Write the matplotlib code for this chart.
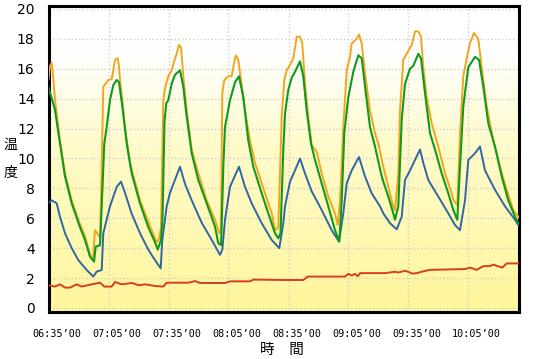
import numpy as np
import matplotlib.pyplot as plt
import matplotlib.transforms as mtransforms
from matplotlib.colors import LinearSegmentedColormap

# --- データ (06:35'00 からの経過分, 温度) ---
t_orange = [0, 0.8, 1.6, 2.3, 3.25, 5.75, 8.25, 11.6, 15.75, 18.25, 20.75, 21.6, 22.4, 23.2, 24.9,
            25.8, 26.6, 27.4, 29.9, 31.6, 32.4, 33.25, 34.6, 35.2, 35.75, 36.9, 38.25, 40.75, 45.75,
            51.6, 54.1, 55.2, 56.25, 57.4, 58.25, 59.9, 61.6, 63.25, 64.1, 65.25, 66.3, 67.4, 69.1,
            71.6, 74.9, 79.1, 83.25, 85.4, 86.2, 86.9, 87.9, 89.9, 91.6, 92.4, 93.6, 94.9, 96.25,
            98.25, 100.75, 103.25, 108.25, 111.6, 113.25, 114.9, 116.6, 117.9, 119.1, 120.75, 122.4,
            124.1, 125.75, 126.9, 128.25, 129.9, 131.6, 134.1, 136.6, 139.9, 143.25, 144.6, 145.75,
            147.4, 149.1, 150.75, 151.6, 154.1, 155.25, 156.6, 158.25, 160.75, 163.25, 164.9, 167.4,
            169.9, 172.4, 173.25, 174.9, 175.75, 177.4, 180.75, 181.6, 183.25, 184.9, 186.25, 187.4,
            189.1, 191.6, 194.9, 198.25, 201.6, 202.5, 204.4, 205.75, 207.4, 209.1, 210.75, 212.75,
            214.9, 216.6, 219.1, 222.4, 225.75, 229.1, 232.4, 234.9, 235.5]
v_orange = [15.3, 16.2, 16.4, 15.5, 13.9, 11.2, 9.0, 7.2, 5.6, 4.8, 3.6, 3.3, 3.4, 5.2, 4.9,
            4.7, 9.5, 14.8, 15.25, 15.3, 15.9, 16.6, 16.7, 16.2, 15.25, 13.9, 12.1, 9.7, 7.2,
            5.2, 4.4, 4.6, 5.4, 13.9, 14.7, 15.5, 15.9, 16.7, 17.0, 17.6, 17.4, 15.5, 13.2,
            10.6, 9.0, 7.2, 5.9, 5.0, 5.2, 14.36, 15.25, 15.5, 15.5, 16.1, 16.9, 16.6, 15.25,
            13.2, 11.2, 9.7, 7.67, 6.33, 5.2, 5.4, 12.8, 15.25, 15.9, 16.25, 16.7,
            18.15, 18.15, 17.7, 15.0, 12.8, 10.9, 10.45, 9.0, 7.45, 6.33, 5.55, 7.2,
            12.1, 15.9, 16.8, 17.7, 18.0, 18.3, 17.7, 15.7, 13.2, 11.7, 11.0, 9.45,
            8.1, 6.8, 6.55, 9.0, 13.2, 16.6, 17.4, 17.6, 18.5, 18.5, 18.15, 16.1,
            14.1, 12.35, 10.8, 9.0, 7.67, 7.2, 6.9, 11.7, 15.5, 16.7, 17.7, 18.4,
            18.0, 16.1, 13.5, 11.2, 9.45, 7.9, 6.55, 6.1, 6.0]

t_green = [0, 3.25, 5.75, 8.25, 11.6, 15.75, 18.25, 20.75, 22.75, 23.6, 25.75, 26.5, 27.9, 29.1,
           30.75, 32.4, 34.1, 35.25, 36.9, 39.1, 41.6, 45.75, 49.9, 53.25, 54.6, 56.25, 57.0, 58.0,
           58.9, 59.9, 61.6, 63.25, 65.75, 67.4, 69.1, 71.6, 74.9, 79.1, 83.25, 84.9, 86.3, 87.4,
           88.25, 90.75, 93.25, 95.25, 97.4, 99.9, 102.4, 106.6, 109.9, 113.25, 114.9, 116.0, 117.4,
           118.25, 119.9, 121.6, 123.25, 125.75, 127.4, 129.1, 131.25, 133.25, 136.6, 139.9, 143.25,
           145.4, 146.6, 147.9, 149.9, 152.4, 154.9, 156.6, 159.1, 160.75, 163.25, 166.6, 167.4,
           169.9, 172.4, 173.25, 174.9, 176.6, 178.25, 180.75, 182.4, 184.9, 186.25, 188.25, 190.75,
           193.25, 196.6, 199.9, 202.4, 204.4, 205.75, 207.4, 209.9, 213.25, 215.25, 217.4, 219.9,
           223.25, 226.6, 229.9, 233.25, 234.9, 235.5]
v_green = [14.76, 13.24, 11.0, 8.8, 7.0, 5.4, 4.55, 3.43, 3.1, 4.1, 4.2, 6.5, 11.0, 12.1,
           13.9, 14.9, 15.25, 15.1, 13.5, 11.0, 9.0, 7.0, 5.4, 4.4, 3.9, 4.55, 6.0, 12.5,
           13.7, 13.9, 15.0, 15.6, 15.9, 14.8, 12.8, 10.35, 8.56, 7.0, 5.44, 4.33, 4.2, 9.45,
           12.1, 13.9, 15.1, 15.5, 14.1, 11.2, 9.45, 7.67, 6.33, 5.0, 4.66, 5.0, 10.6,
           13.0, 14.6, 15.4, 15.8, 16.5, 15.5, 13.2, 11.0, 9.9, 8.34, 6.8, 5.2,
           4.44, 7.2, 11.7, 14.1, 15.8, 16.9, 16.7, 13.9, 12.1, 10.8, 8.8, 8.45,
           7.45, 6.33, 5.9, 6.8, 12.6, 15.0, 16.0, 16.2, 17.0, 16.7, 14.36, 11.7,
           10.6, 9.0, 7.67, 6.55, 5.9, 9.45, 13.5, 16.1, 16.8, 16.6, 14.8, 12.35,
           10.8, 8.8, 7.2, 6.1, 5.67, 5.6]

t_blue = [0, 1.6, 4.1, 5.75, 8.25, 11.6, 14.9, 19.1, 22.4, 24.1, 26.6, 27.4, 30.75, 34.1, 36.25,
          38.25, 41.6, 45.75, 49.9, 53.25, 56.1, 56.9, 59.1, 60.75, 61.6, 65.75, 68.25, 71.6, 76.6,
          81.6, 85.75, 86.9, 88.25, 90.75, 95.25, 98.25, 101.6, 106.6, 111.6, 115.4, 117.4, 118.25,
          120.75, 123.25, 125.75, 128.25, 131.6, 136.6, 141.6, 145.25, 147.4, 149.1, 151.6, 155.25,
          158.25, 161.6, 165.75, 167.4, 170.75, 174.1, 176.6, 178.25, 180.75, 183.25, 185.75, 187.4,
          189.9, 194.9, 199.9, 203.25, 205.75, 208.25, 209.9, 213.25, 215.75, 218.25, 223.25, 228.25,
          233.25, 234.9, 235.5]
v_blue = [7.0, 7.2, 7.0, 6.1, 5.0, 4.0, 3.2, 2.54, 2.1, 2.43, 2.54, 5.0, 6.8, 8.1, 8.45,
          7.7, 6.3, 5.0, 3.9, 3.2, 2.65, 4.55, 6.8, 7.7, 8.0, 9.45, 8.3, 7.2, 5.7,
          4.55, 3.55, 3.9, 5.9, 8.1, 9.45, 8.1, 7.0, 5.67, 4.55, 4.0, 5.67, 6.8,
          8.45, 9.2, 10.0, 9.0, 7.8, 6.55, 5.2, 4.44, 6.33, 8.34, 9.2, 10.1,
          8.8, 7.67, 6.8, 6.33, 5.67, 5.26, 6.1, 8.56, 9.2, 9.9, 10.6, 9.7,
          8.56, 7.45, 6.33, 5.55, 5.2, 7.2, 9.9, 10.35, 10.8, 9.2, 7.9, 6.8,
          5.9, 5.55, 5.5]

t_red = [0, 3.25, 5.75, 8.25, 10.75, 14.1, 16.6, 21.6, 25.75, 27.9, 31.6, 33.25, 36.6, 41.9, 45,
         48.25, 53.25, 57.4, 59.1, 69.9, 73.25, 75.75, 88.25, 90.75, 100.75, 102.4, 118.25, 127.4,
         129.6, 148.25, 149.9, 151.6, 153.25, 154.6, 155.75, 168.25, 173.25, 175, 178.25, 179.9,
         181.6, 184.1, 186.6, 190.75, 208.25, 210.75, 214.1, 217.4, 220.75, 222.4, 224.5, 226.9,
         229.1, 235.5]
v_red = [1.52, 1.43, 1.58, 1.36, 1.36, 1.58, 1.43, 1.58, 1.69, 1.43, 1.43, 1.74, 1.58, 1.67, 1.52,
         1.58, 1.47, 1.43, 1.69, 1.69, 1.8, 1.67, 1.67, 1.78, 1.78, 1.9, 1.87, 1.87,
         2.1, 2.1, 2.28, 2.17, 2.28, 2.12, 2.33, 2.33, 2.42, 2.37, 2.49, 2.42,
         2.3, 2.33, 2.42, 2.55, 2.6, 2.7, 2.55, 2.8, 2.8, 2.9, 2.8, 2.7,
         2.98, 2.98]

x_ticks = [0, 30, 60, 90, 120, 150, 180, 210]
x_labels = ["06:35’00", "07:05’00", "07:35’00", "08:05’00",
            "08:35’00", "09:05’00", "09:35’00", "10:05’00"]
y_ticks = list(range(0, 21, 2))

plt.rcParams['font.family'] = ['Noto Sans CJK JP', 'DejaVu Sans']

fig = plt.figure(figsize=(5.5, 3.59), dpi=100)
ax = fig.add_axes([48.5 / 550, 1 - 312 / 359, (519.3 - 48.5) / 550, (312 - 6) / 359])

# 背景グラデーション (上: 白 → 下: 黄色)
cmap = LinearSegmentedColormap.from_list(
    "bg", [(0.0, "#FFF69C"), (0.55, "#FFFBCC"), (0.85, "#FFFFFF"), (1.0, "#FFFFFF")])
grad = np.linspace(0, 1, 256).reshape(-1, 1)
ax.imshow(grad, cmap=cmap, aspect="auto", origin="lower",
          extent=[0, 1, 0, 1], transform=ax.transAxes, zorder=0)

ax.plot(t_red, v_red, color="#D4401C", lw=1.4, zorder=3)
ax.plot(t_blue, v_blue, color="#2E67A6", lw=1.4, zorder=3)
ax.plot(t_orange, v_orange, color="#F2A51E", lw=1.4, zorder=3)
ax.plot(t_green, v_green, color="#0E9A1E", lw=1.5, zorder=4)

ax.set_xlim(0, 235.4)
ax.set_ylim(-0.27, 20.2)
ax.set_xticks(x_ticks)
ax.set_xticklabels(x_labels, fontsize=7.3, family="DejaVu Sans Mono")
ax.set_yticks(y_ticks)
ax.set_yticklabels([str(y) for y in y_ticks], fontsize=10, family="DejaVu Sans")
ax.tick_params(length=0, pad=10)
ax.tick_params(axis="x", pad=12)

# x ラベルを少し右へずらす
offset = mtransforms.ScaledTranslation(0.08, 0, fig.dpi_scale_trans)
for lab in ax.get_xticklabels():
    lab.set_transform(lab.get_transform() + offset)

ax.grid(True, color="#CFCFCF", linestyle=":", linewidth=1, zorder=1)
for s in ax.spines.values():
    s.set_linewidth(2.2)
    s.set_color("black")

fig.text(282 / 550, 1 - 350 / 359, "時　間", ha="center", va="center", fontsize=10.5)
fig.text(10 / 550, 1 - 145 / 359, "温", ha="center", va="center", fontsize=10)
fig.text(10 / 550, 1 - 173 / 359, "度", ha="center", va="center", fontsize=10)

fig.savefig("out.png", dpi=100)
